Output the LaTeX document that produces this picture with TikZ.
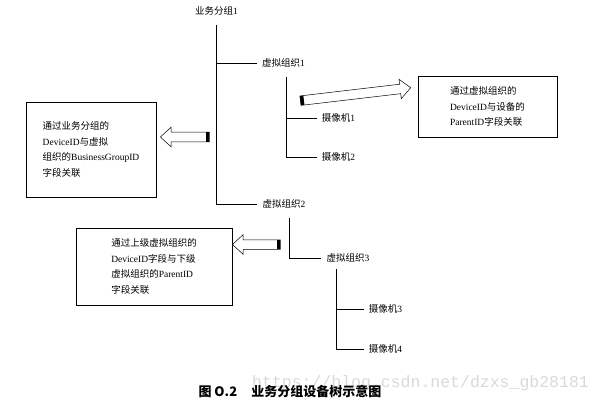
\documentclass[tikz,border=0pt]{standalone}
\usepackage{fontspec}
\setmainfont{Liberation Serif}
\newfontfamily\cjk{Noto Sans CJK SC}
\newfontfamily\markfont{Liberation Mono}
\newcommand{\zh}[1]{{\cjk #1}}
\usetikzlibrary{shapes.arrows, positioning}

\begin{document}
\begin{tikzpicture}[x=1pt, y=-1pt,
    lbl/.style={inner xsep=5pt, inner ysep=2pt, font=\fontsize{9.5}{11}\selectfont},
    notebox/.style={draw, line width=0.9pt, align=left, inner sep=0pt,
      font=\fontsize{9.5}{15.7}\selectfont},
    tree/.style={line width=0.6pt},
    bigarrow/.style={single arrow, draw, line width=0.5pt, inner xsep=0pt,
      inner ysep=4.5pt, single arrow head extend=5pt, single arrow tip angle=85},
    arrowtail/.style={fill=black, inner sep=0pt, minimum width=3.5pt, minimum height=9pt}]
      \useasboundingbox (0,0) rectangle (602,401);
      %
      \node[lbl] (g1) at (216.5,11) {\zh{业务分组}1};
      \node[lbl] (v1) at (283.5,63) {\zh{虚拟组织}1};
      \node[lbl] (c1) at (338.5,118) {\zh{摄像机}1};
      \node[lbl] (c2) at (338.5,157) {\zh{摄像机}2};
      \node[lbl] (v2) at (284,204) {\zh{虚拟组织}2};
      \node[lbl] (v3) at (348,258) {\zh{虚拟组织}3};
      \node[lbl] (c3) at (385.5,309) {\zh{摄像机}3};
      \node[lbl] (c4) at (385.5,349) {\zh{摄像机}4};
      %
      \coordinate (r1) at (216,25);
      \coordinate (r2) at (286,77);
      \coordinate (r3) at (289,218);
      \coordinate (r4) at (336,269);
      %
      \draw[tree] (r1) |- (v2.west);
      \draw[tree] (r1 |- v1.west) -- (v1.west);
      \draw[tree] (r2) |- (c2.west);
      \draw[tree] (r2 |- c1.west) -- (c1.west);
      \draw[tree] (r3) |- (v3.west);
      \draw[tree] (r4) |- (c4.west);
      \draw[tree] (r4 |- c3.west) -- (c3.west);
      %
      \node[notebox, minimum width=130pt, minimum height=95pt] (n1) at (91,149.5)
        {\zh{通过业务分组的}\\DeviceID\zh{与虚拟}\\\zh{组织的}BusinessGroupID\\\zh{字段关联}};
      \node[notebox, minimum width=156pt, minimum height=77pt] (n2) at (154,266.5)
        {\zh{通过上级虚拟组织的}\\DeviceID\zh{字段与下级}\\\zh{虚拟组织的}ParentID\\\zh{字段关联}};
      \node[notebox, minimum width=139pt, minimum height=61pt] (n3) at (487.5,106.5)
        {\zh{通过虚拟组织的}\\DeviceID\zh{与设备的}\\ParentID\zh{字段关联}};
      %
      \node[bigarrow, minimum height=49pt, rotate=180] (a1) at (187.5,137) {};
      \node[arrowtail, anchor=east] at (a1.tail) {};
      \node[bigarrow, minimum height=48pt, rotate=180] (a2) at (259,244.5) {};
      \node[arrowtail, anchor=east] at (a2.tail) {};
      \node[bigarrow, minimum height=111pt, rotate=6.7] (a3) at (353,94.5) {};
      \node[arrowtail, anchor=west, rotate=6.7] at (a3.tail) {};
      %
      \node[anchor=base west, inner sep=0pt, text=gray!30, font=\markfont\fontsize{16.5}{18}\selectfont]
        (wm) at (252,387) {https://blog.csdn.net/dzxs\_gb28181};
      \node[font=\cjk\bfseries\fontsize{13}{15}\selectfont] (cap) at (290,391)
        {图 O.2\hspace{1.1em}业务分组设备树示意图};
    \end{tikzpicture}
\end{document}
